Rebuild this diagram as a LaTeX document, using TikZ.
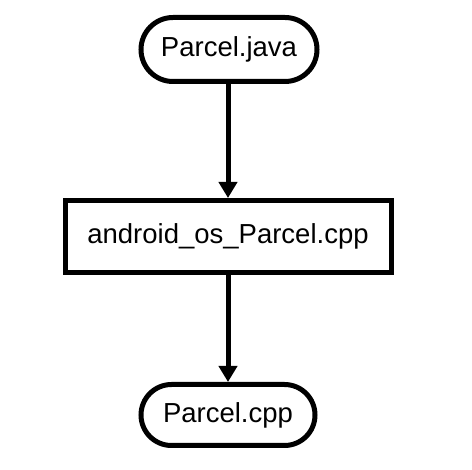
\documentclass[tikz,border=0pt]{standalone}
\usepackage{fontspec}
\setmainfont{Liberation Sans}
\usetikzlibrary{arrows.meta}
\begin{document}
\begin{tikzpicture}[x=1pt,y=-1pt,
  term/.style={draw=black,line width=5pt,fill=white,inner sep=0pt,
    font=\fontsize{27.5}{33}\selectfont},
  procbox/.style={draw=black,line width=5pt,fill=white,inner sep=0pt,
    minimum width=326pt,minimum height=72pt,font=\fontsize{27.5}{33}\selectfont},
  flow/.style={line width=5pt,-{Triangle[width=18pt,length=16pt]}}]
\useasboundingbox (0,0) rectangle (472,470);
\fill[white] (0,0) rectangle (472,470);
\node[term,minimum width=176pt,minimum height=64pt,rounded corners=32pt] (java) at (229,49.5) {Parcel.java};
\node[procbox] (jni) at (228,236.5) {android\_os\_Parcel.cpp};
\node[term,minimum width=174pt,minimum height=61pt,rounded corners=30.5pt] (cpp) at (228,415) {Parcel.cpp};
\draw[flow] (java.south -| jni.north) -- (jni.north);
\draw[flow] (jni.south) -- (cpp.north);
\end{tikzpicture}
\end{document}
